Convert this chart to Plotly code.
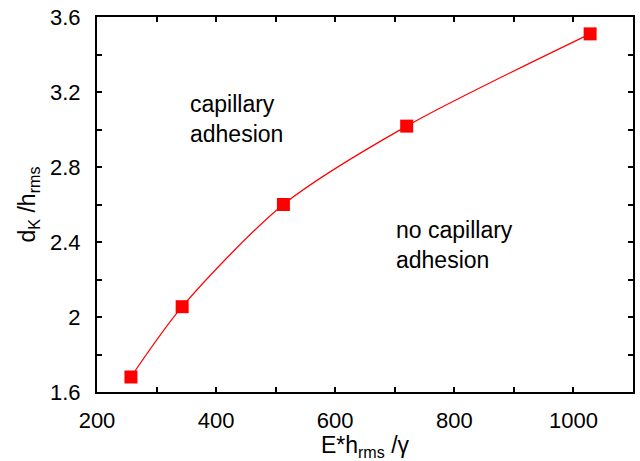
import plotly.graph_objects as go

# Critical separation d_K/h_rms versus reduced modulus E*h_rms/gamma
stiffness = [257, 343, 513, 720, 1028]
d_ratio = [1.68, 2.055, 2.60, 3.018, 3.51]

x_ticks = [200, 400, 600, 800, 1000]
y_ticks = [1.6, 2.0, 2.4, 2.8, 3.2, 3.6]
y_tick_text = ["1.6", "2", "2.4", "2.8", "3.2", "3.6"]

font_family = "Liberation Sans, Arial, sans-serif"
red = "#ff0000"

fig = go.Figure()
fig.add_trace(go.Scatter(
    x=stiffness, y=d_ratio,
    mode="lines+markers",
    line=dict(color=red, width=1.2, shape="spline", smoothing=0.8),
    marker=dict(symbol="square", size=13, color=red),
    showlegend=False,
))

axis_common = dict(
    showline=True, linecolor="black", linewidth=2, mirror="ticks",
    ticks="inside", ticklen=5, tickwidth=1.5, tickcolor="black",
    showgrid=False, zeroline=False,
    tickfont=dict(family=font_family, size=22, color="black"),
)

fig.update_xaxes(
    range=[200, 1100], tickvals=x_ticks,
    minor=dict(dtick=100, tick0=200, ticks="inside", ticklen=5, tickwidth=1.5, tickcolor="black"),
    ticklabelstandoff=8,
    title=dict(text="E*h<sub>rms</sub> /γ", font=dict(family=font_family, size=23, color="black"), standoff=6),
    **axis_common,
)
fig.update_yaxes(
    range=[1.6, 3.6], tickvals=y_ticks, ticktext=y_tick_text,
    minor=dict(dtick=0.2, tick0=1.6, ticks="inside", ticklen=5, tickwidth=1.5, tickcolor="black"),
    ticklabelstandoff=10,
    title=dict(text="d<sub>K</sub> /h<sub>rms</sub>", font=dict(family=font_family, size=23, color="black"), standoff=8),
    **axis_common,
)

# Region labels
for text, x, y in [("capillary<br>adhesion", 352, 3.056), ("no capillary<br>adhesion", 698, 2.384)]:
    fig.add_annotation(
        x=x, y=y, text=text, showarrow=False, xanchor="left", yanchor="middle", align="left",
        font=dict(family=font_family, size=23, color="black"),
    )

fig.update_layout(
    width=640, height=461,
    margin=dict(l=97, r=5, t=16, b=68),
    paper_bgcolor="white", plot_bgcolor="white",
)

fig.write_html("out.html")
